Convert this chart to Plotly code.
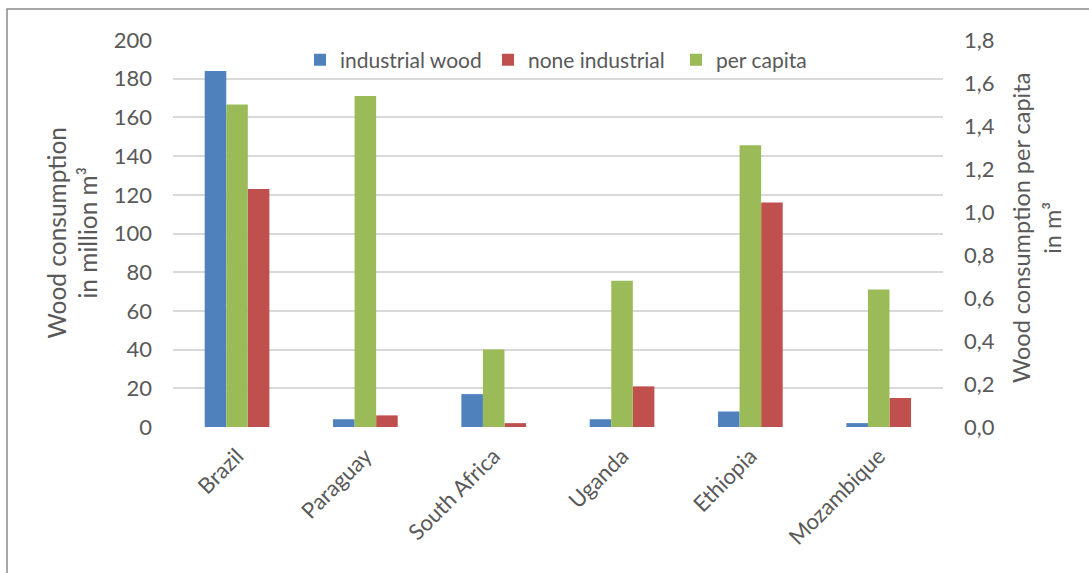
import plotly.graph_objects as go

countries = ["Brazil", "Paraguay", "South Africa", "Uganda", "Ethiopia", "Mozambique"]
industrial_wood = [184, 4, 17, 4, 8, 2]
none_industrial = [123, 6, 2, 21, 116, 15]
per_capita = [1.50, 1.54, 0.36, 0.68, 1.31, 0.64]

left_ticks = list(range(0, 201, 20))
right_ticks = [round(i * 0.2, 1) for i in range(10)]

FONT = "Lato"
GREY = "#595959"

fig = go.Figure()
fig.add_trace(go.Bar(x=countries, y=industrial_wood, name="industrial wood",
                     marker=dict(color="#4F81BD", line=dict(width=0)),
                     width=0.168, offset=-0.253, yaxis="y"))
fig.add_trace(go.Bar(x=countries, y=none_industrial, name="none industrial",
                     marker=dict(color="#C0504D", line=dict(width=0)),
                     width=0.168, offset=0.083, yaxis="y"))
fig.add_trace(go.Bar(x=countries, y=per_capita, name="per capita",
                     marker=dict(color="#9BBB59", line=dict(width=0)),
                     width=0.168, offset=-0.085, yaxis="y2"))

L, R, T, B = 173, 146, 40, 146
W, H = 1089, 573
pw, ph = W - L - R, H - T - B

def px_x(p):
    return (p - L) / pw

def px_y(p):
    return (H - B - p) / ph

fig.update_layout(
    width=W, height=H,
    margin=dict(l=L, r=R, t=T, b=B, autoexpand=False),
    paper_bgcolor="white", plot_bgcolor="white",
    separators=", ",
    font=dict(family=FONT, size=21, color=GREY),
    barmode="overlay",
    showlegend=True,
    legend=dict(orientation="h", x=px_x(300), y=px_y(60), xanchor="left", yanchor="middle",
                entrywidth=143, entrywidthmode="pixels",
                font=dict(family=FONT, size=21, color=GREY), bgcolor="rgba(0,0,0,0)",
                traceorder="normal"),
    xaxis=dict(tickangle=-45, showgrid=False, showline=False, zeroline=False,
               ticks="", tickfont=dict(size=22, color=GREY), automargin=False,
               ticklabelstandoff=11),
    yaxis=dict(range=[0, 200], tickvals=left_ticks, showgrid=True, gridcolor="#D9D9D9",
               gridwidth=1.5, zeroline=False, showline=False, ticks="",
               tickfont=dict(size=22, color=GREY), automargin=False, ticklabelstandoff=20),
    yaxis2=dict(range=[0, 1.8], tickvals=right_ticks, tickformat=".1f", overlaying="y",
                side="right", showgrid=False, zeroline=False, showline=False, ticks="",
                tickfont=dict(size=22, color=GREY), automargin=False, ticklabelstandoff=20),
    annotations=[
        dict(text="Wood consumption<br>in million m³", textangle=-90, xref="paper", yref="paper",
             x=px_x(72), y=0.5, xanchor="center", yanchor="middle", showarrow=False,
             font=dict(family=FONT, size=24.5, color=GREY), align="center"),
        dict(text="Wood consumption per capita<br>in m³", textangle=-90, xref="paper", yref="paper",
             x=px_x(1036), y=px_y(228), xanchor="center", yanchor="middle", showarrow=False,
             font=dict(family=FONT, size=23.5, color=GREY), align="center"),
    ],
    shapes=[
        dict(type="path", xref="paper", yref="paper",
             path=f"M {px_x(7)} {px_y(600)} L {px_x(7)} {px_y(9)} L {px_x(1100)} {px_y(9)}",
             line=dict(color="#8C8C8C", width=1.5)),
    ],
)

fig.write_html("out.html")
